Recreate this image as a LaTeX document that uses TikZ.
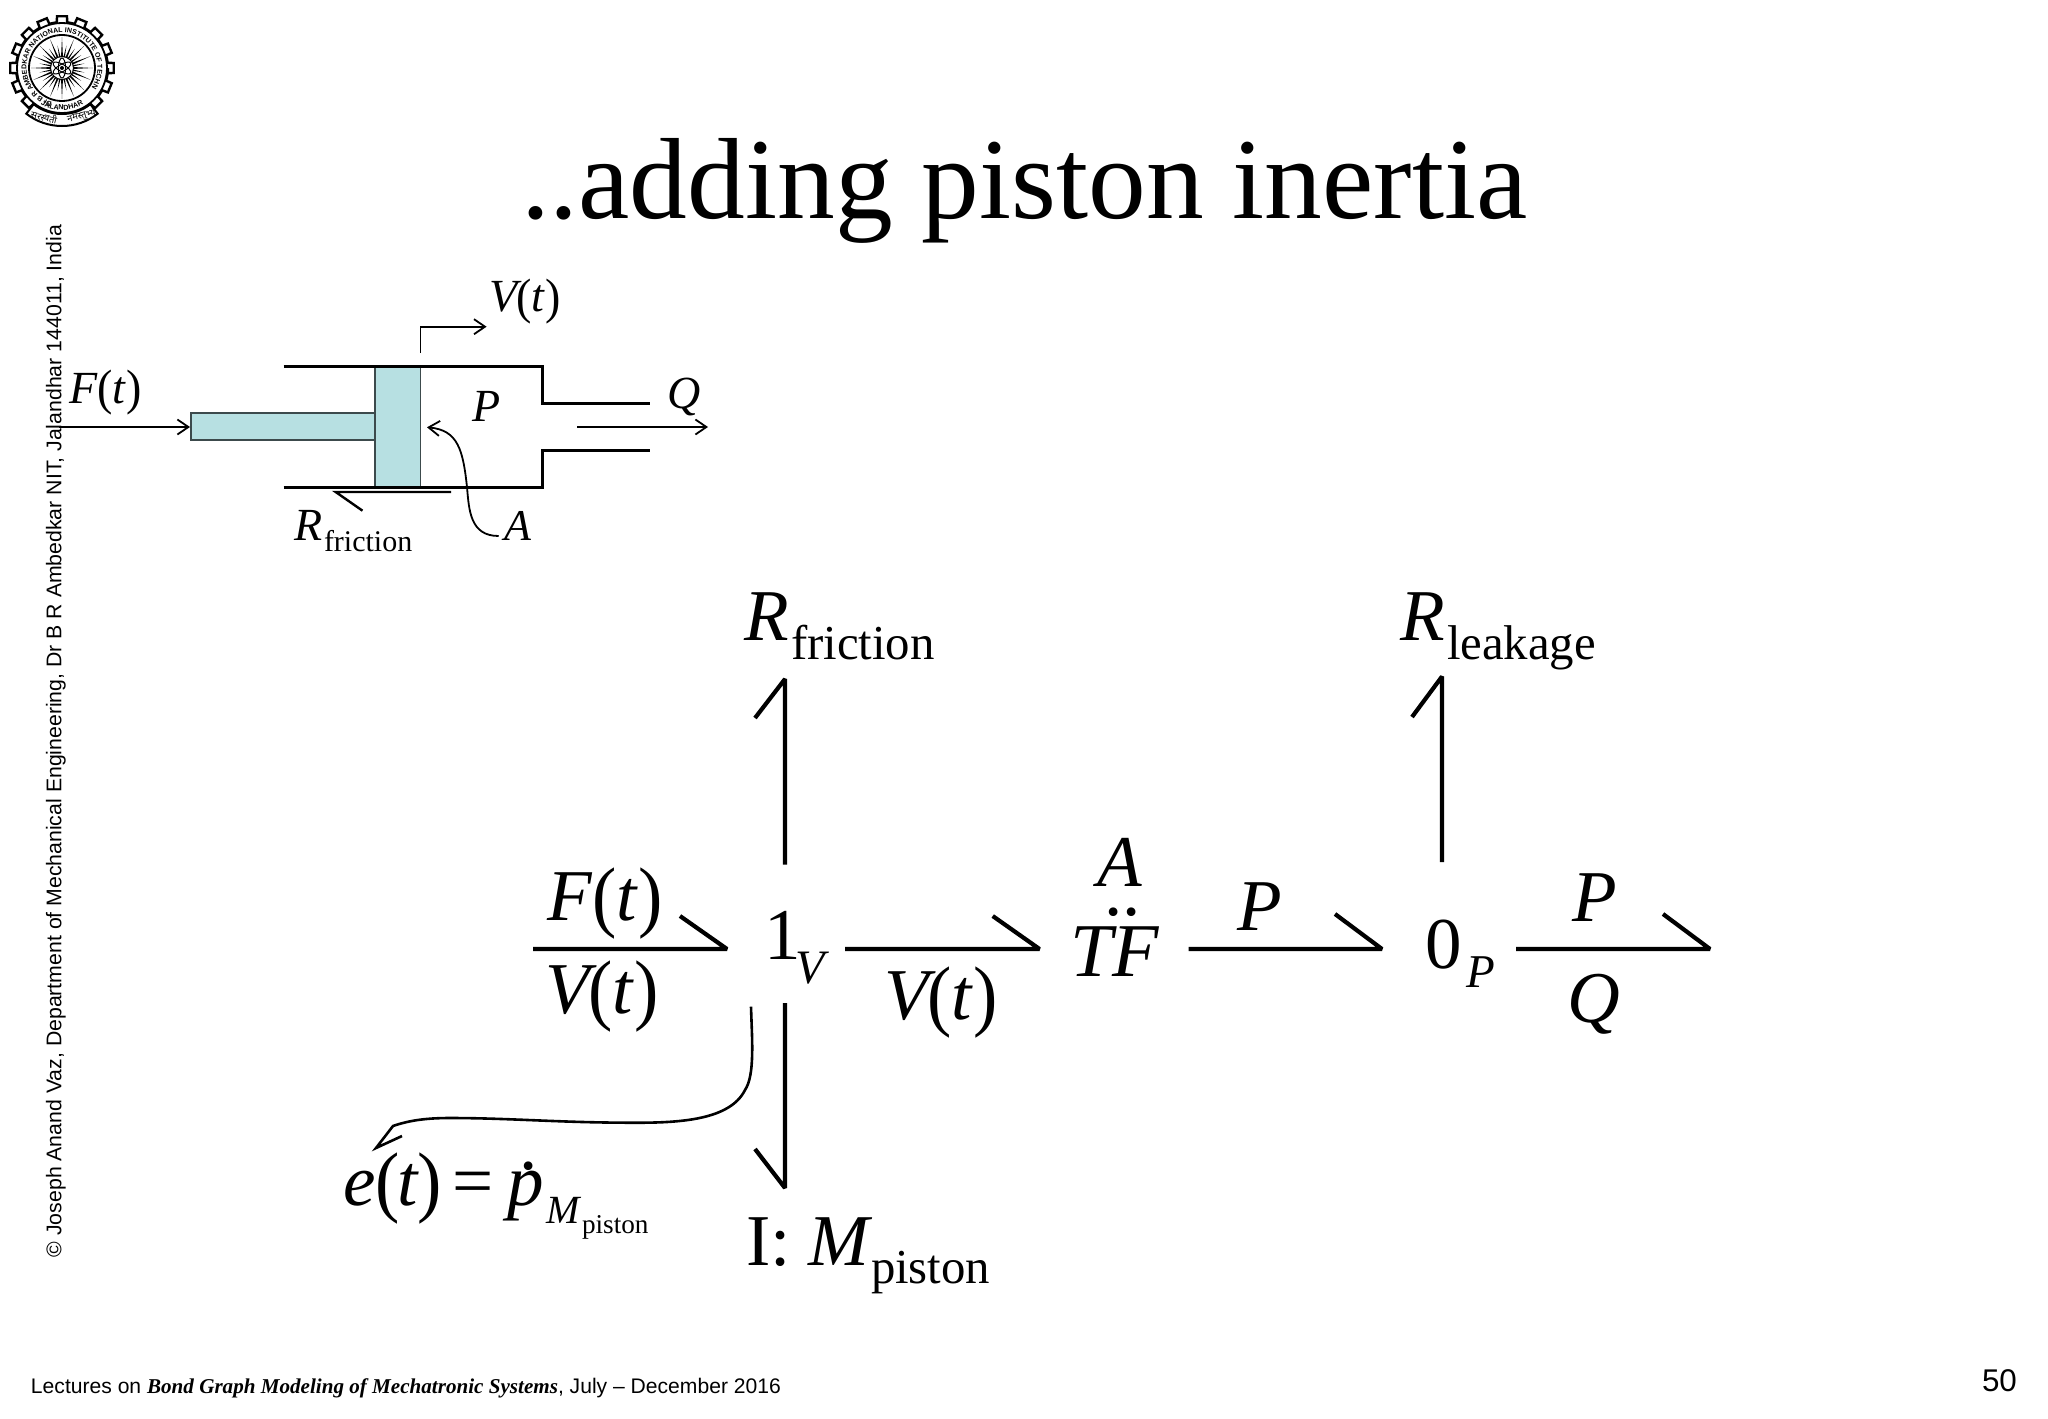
\documentclass[tikz,border=0pt]{standalone}
\usepackage{graphicx}
\usepackage{fontspec}
\setmainfont{Liberation Serif}
\setsansfont{Liberation Sans}
\newfontfamily\devafont[Script=Devanagari]{Noto Sans}
\usetikzlibrary{arrows.meta,decorations.text}
\definecolor{pistonfill}{HTML}{B7E0E2}
\definecolor{pistonline}{HTML}{3C4A4C}
\newcommand{\fsz}[1]{\fontsize{#1}{#1}\selectfont}
\newcommand{\lpar}{\raisebox{-.04em}{\scalebox{1}[1.08]{(}}}
\newcommand{\rpar}{\raisebox{-.04em}{\scalebox{1}[1.08]{)}}}
\newcommand{\ft}[1]{\textit{#1}\lpar\textit{t}\rpar}
\newcommand{\vt}{\textit{V}\kern-.11em\lpar\textit{t}\rpar}
\tikzset{
  txt/.style={inner sep=0pt,outer sep=0pt,anchor=base west,font=\fsz{#1}},
  txt/.default=36.5,
  bond/.style={line width=2.1pt,line cap=butt,line join=bevel},
  wall/.style={line width=1.5pt,line join=miter},
  thin arrow/.style={line width=.9pt,-{Straight Barb[length=5.5pt,width=7.5pt,line width=.9pt]}},
  piston/.style={fill=pistonfill,draw=pistonline,line width=.6pt}
}
\begin{document}
\begin{tikzpicture}[x=.5pt,y=-.5pt]
\useasboundingbox (0,0) rectangle (2048,1418);
% logo
\begin{scope}[shift={(62,68)},x=.5pt,y=.5pt]
  \draw[line width=1.2pt,fill=white]
    (0:46) foreach \a in {0,22.5,...,337.5} {
      -- (\a-6.5:46) -- (\a-5.5:52) -- (\a+5.5:52) -- (\a+6.5:46) -- (\a+16:46)
    } -- cycle;
  \draw[line width=.9pt] (0,0) circle (45);
  \draw[line width=.9pt] (0,0) circle (33);
  \foreach \a in {0,22.5,...,337.5} {
    \fill (\a-5:11) -- (\a:31) -- (\a+5:11) -- cycle;
    \fill (\a+11.25-4:11) -- (\a+11.25:23) -- (\a+11.25+4:11) -- cycle;
  }
  \fill[white] (0,0) circle (11.5);
  \draw[line width=.5pt] (0,0) circle (11.5);
  \foreach \a in {30,90,150} {\draw[line width=.5pt,rotate=\a] (0,0) ellipse (10 and 3.6);}
  \fill (0,0) circle (2);
  \path[postaction={decorate,decoration={text along path,text align=center,
      text={|\fontsize{3.5}{4}\selectfont\bfseries\sffamily|Dr B R AMBEDKAR NATIONAL INSTITUTE OF TECHNOLOGY}}}]
    (218:35.5) arc (218:-38:35.5);
  \path[postaction={decorate,decoration={text along path,text align=center,
      text={|\fontsize{3.6}{4}\selectfont\bfseries\sffamily|JALANDHAR}}}]
    (236:42) arc (236:304:42);
  \draw[line width=1pt,fill=white] (232:46) arc (232:308:46) -- (308:58) arc (308:232:58) -- cycle;
  \node[inner sep=0pt,rotate=-14,font=\devafont\fsz{4.6}] (mottoa) at (250:52) {सरस्वती};
  \node[inner sep=0pt,rotate=14,font=\devafont\fsz{4.6}] (mottob) at (292:52) {नमस्तुभ्यं};
\end{scope}
% title and frame text
\node[txt=57.7] (title) at (521,218) {..adding piston inertia};
\node[inner sep=0pt,rotate=90,font=\sffamily\fsz{10.63}] (margin) at (56,741)
  {© Joseph Anand Vaz, Department of Mechanical Engineering, Dr B R Ambedkar NIT, Jalandhar 144011, India};
\node[txt=10.55,font=\sffamily\fsz{10.55}] (foot) at (31,1393)
  {Lectures on {\rmfamily\bfseries\itshape Bond Graph Modeling of Mechatronic Systems}, July – December 2016};
\node[txt=15.7,font=\sffamily\fsz{15.7}] (pageno) at (1982,1391) {50};
% piston sketch
\fill[pistonfill] (191,413) rectangle (375,440);
\draw[piston] (375,413) -- (191,413) -- (191,440) -- (375,440);
\draw[piston] (375,366) rectangle (420.5,487);
\coordinate (wt0) at (283.5,366); \coordinate (wt1) at (542,366);
\coordinate (nt0) at (542,403);   \coordinate (nt1) at (650,403);
\coordinate (wb0) at (283.5,487); \coordinate (wb1) at (542,487);
\coordinate (nb0) at (542,450);   \coordinate (nb1) at (650,450);
\draw[wall] (wt0) -- (wt1) -- (nt0) -- (nt1);
\draw[wall] (wb0) -- (wb1) -- (nb0) -- (nb1);
\coordinate (fa) at (59,427); \coordinate (fb) at (190,427);
\draw[thin arrow] (fa) -- (fb);
\coordinate (va) at (420.5,353); \coordinate (vm) at (420.5,326.7); \coordinate (vb) at (486.6,326.7);
\draw[thin arrow] (va) -- (vm) -- (vb);
\coordinate (qa) at (577,427); \coordinate (qb) at (708,427);
\draw[thin arrow] (qa) -- (qb);
\coordinate (aa) at (498.7,536); \coordinate (ab) at (427,427.3);
\draw[thin arrow] (aa) .. controls (470,536) and (469,510) .. (467,487)
   .. controls (463,450) and (458,430) .. (ab);
\coordinate (sa) at (451,492); \coordinate (sb) at (335.7,492); \coordinate (sc) at (362.5,510.7);
\draw[line width=1.2pt] (sa) -- (sb) -- (sc);
\node[txt=23] (sF) at (69,403) {\ft{F}};
\node[txt=23] (sV) at (489,311.7) {\vt};
\node[txt=23] (sP) at (472,421.7) {\textit{P}};
\node[txt=23] (sQ) at (667,408) {\textit{Q}};
\node[txt=22] (sA) at (504,540.7) {\textit{A}};
\node[txt=23] (sR) at (294.6,540.7) {\textit{R}};
\node[txt=15] (sRs) at (324,551.7) {friction};
% bond graph labels
\node[txt] (bF) at (547,920) {\ft{F}};
\node[txt] (bV) at (545,1013) {\vt};
\node[txt] (one) at (764,959) {1};
\node[txt=24] (oneV) at (795,983) {\textit{V}};
\node[txt] (bV2) at (884,1019) {\vt};
\node[txt] (tfA) at (1097,886) {\textit{A}};
\node[txt=38] (tfT) at (1070,976) {\textit{TF}};
\node[txt] (tfD) at (1104,915) {..};
\node[txt] (bP) at (1237,930) {\textit{P}};
\node[txt] (zero) at (1425,968) {0};
\node[txt=23.5] (zeroP) at (1466,987) {\textit{P}};
\node[txt] (bP2) at (1572,921) {\textit{P}};
\node[txt] (bQ) at (1567,1022) {\textit{Q}};
\node[txt] (Rf) at (744.5,640) {\textit{R}};
\node[txt=24.4] (Rfs) at (791,659.5) {friction};
\node[txt] (Rl) at (1400,640) {\textit{R}};
\node[txt=24.4] (Rls) at (1447,659.5) {leakage};
\node[txt] (Ii) at (746,1265) {I: \textit{M}};
\node[txt=24.4] (Iis) at (871,1283) {piston};
\node[txt] (ee) at (343,1205) {\textit{e}\lpar\kern-.03em\textit{t}\kern-.03em\rpar};
\node[txt] (eq) at (452,1205) {=};
\node[txt] (pp) at (507,1205) {\textit{p}};
\node[txt] (ppd) at (519,1169) {.};
\node[txt=20] (ppM) at (546,1223) {\textit{M}};
\node[txt=13.6] (pps) at (582,1233) {piston};
% bonds
\coordinate (b1a) at (533,949); \coordinate (b1b) at (727,949); \coordinate (b1c) at (680,916);
\coordinate (b2a) at (845,949); \coordinate (b2b) at (1039.5,949); \coordinate (b2c) at (992.7,916);
\coordinate (b3a) at (1188.6,949); \coordinate (b3b) at (1382,949); \coordinate (b3c) at (1335,914);
\coordinate (b4a) at (1516,949); \coordinate (b4b) at (1710,949); \coordinate (b4c) at (1663,914);
\coordinate (u1a) at (785,864.6); \coordinate (u1b) at (785,679); \coordinate (u1c) at (755,718);
\coordinate (u2a) at (1442,862); \coordinate (u2b) at (1442,676.5); \coordinate (u2c) at (1412,717);
\coordinate (d1a) at (785,1003); \coordinate (d1b) at (785,1188); \coordinate (d1c) at (755,1149);
\foreach \n in {b1,b2,b3,b4,u1,u2,d1} {
  \draw[bond] (\n a) -- (\n b) -- (\n c);
}
% causal curve
\coordinate (ca) at (751,1006.7); \coordinate (cb) at (376,1148);
\coordinate (cc) at (402,1136); \coordinate (cd) at (393,1126);
\draw[line width=1.3pt,line join=miter] (ca) .. controls (752,1040) and (755,1075) .. (745,1090)
  .. controls (730,1120) and (680,1123) .. (632,1122.7)
  .. controls (560,1122.7) and (510,1118) .. (450,1118)
  .. controls (428,1118) and (410,1120) .. (cd) -- (cb) -- (cc);
\end{tikzpicture}
\end{document}
